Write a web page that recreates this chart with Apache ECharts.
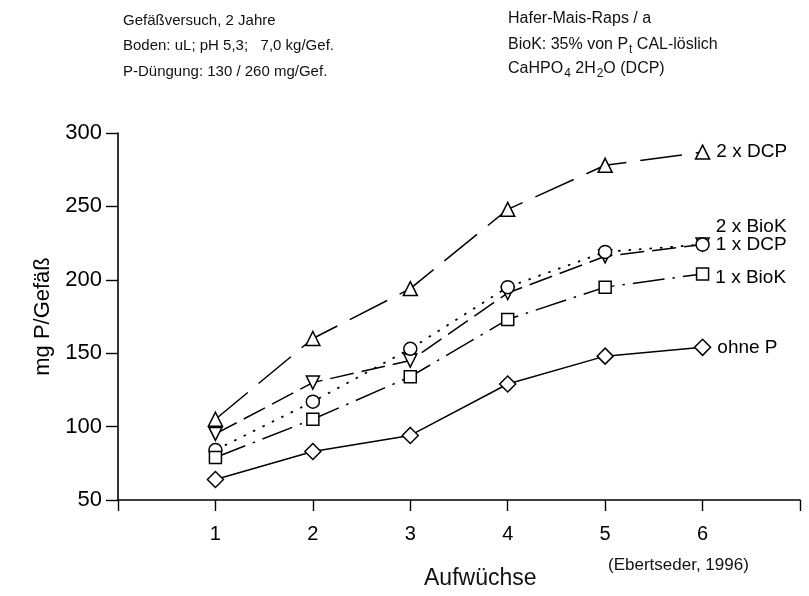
<!DOCTYPE html>
<html>
<head>
<meta charset="utf-8">
<script src="https://cdn.jsdelivr.net/npm/echarts@6/dist/echarts.min.js"></script>
<style>
html,body{margin:0;padding:0;background:#fff;}
#c{width:809px;height:596px;}
</style>
</head>
<body>
<div id="c"></div>
<script>
// Data
var xValues = [1, 2, 3, 4, 5, 6];
var xTickLabels = ['1', '2', '3', '4', '5', '6'];
var yTicks = [50, 100, 150, 200, 250, 300];
var seriesNames = ['2 x DCP', '1 x DCP', '2 x BioK', '1 x BioK', 'ohne P'];
var dcp2 = [105, 160, 194, 248, 278, 287];
var dcp1 = [95, 130, 145, 191, 216, 224];
var biok2 = [84, 117, 153, 195, 219, 224];
var biok1 = [79, 105, 134, 173, 195, 204];
var ohneP = [64, 83, 94, 129, 148, 154];

var FONT = '"Liberation Sans", Arial, Helvetica, sans-serif';
var chart = echarts.init(document.getElementById('c'), null, {renderer: 'canvas'});

function pairs(vals) {
  return vals.map(function (v, i) { return [xValues[i], v]; });
}

function mkSeries(name, vals, symbol, size, rotate, dash, labelOffset, lw) {
  return {
    type: 'line',
    name: name,
    data: pairs(vals),
    symbol: symbol,
    symbolSize: size,
    symbolRotate: rotate,
    showAllSymbol: true,
    lineStyle: {color: '#000', width: lw || 1.5, type: dash},
    itemStyle: {color: '#fff', borderColor: '#000', borderWidth: 1.5},
    label: {
      show: true,
      position: 'right',
      distance: 6,
      offset: labelOffset,
      color: '#000',
      fontFamily: FONT,
      fontSize: 19,
      formatter: function (p) { return p.dataIndex === vals.length - 1 ? name : ''; }
    },
    emphasis: {disabled: true},
    z: 3
  };
}

var topFont = '15px ' + FONT;
var topFontR = '16px ' + FONT;
var subFontR = '12px ' + FONT;

var option = {
  animation: false,
  backgroundColor: '#fff',
  grid: {left: 118, right: 9, top: 133, bottom: 96, containLabel: false},
  xAxis: {
    type: 'value',
    min: 0, max: 7, interval: 1,
    axisLine: {lineStyle: {color: '#000', width: 1.6}},
    axisTick: {show: true, inside: false, length: 11, lineStyle: {color: '#000', width: 1.4}},
    splitLine: {show: false},
    axisLabel: {
      color: '#000', fontFamily: FONT, fontSize: 20, margin: 24,
      formatter: function (v) { var i = xValues.indexOf(v); return i >= 0 ? xTickLabels[i] : ''; }
    }
  },
  yAxis: {
    type: 'value',
    min: yTicks[0], max: yTicks[yTicks.length - 1], interval: 50,
    name: 'mg P/Gefäß',
    nameLocation: 'middle',
    nameGap: 60,
    nameTextStyle: {color: '#000', fontFamily: FONT, fontSize: 22},
    axisLine: {show: true, lineStyle: {color: '#000', width: 1.6}},
    axisTick: {show: true, inside: false, length: 12, lineStyle: {color: '#000', width: 1.4}},
    splitLine: {show: false},
    axisLabel: {color: '#000', fontFamily: FONT, fontSize: 22, margin: 16}
  },
  graphic: [
    {type: 'text', left: 123, top: 13, style: {text: 'Gefäßversuch, 2 Jahre', font: topFont, fill: '#111'}},
    {type: 'text', left: 123, top: 38, style: {text: 'Boden: uL; pH 5,3;   7,0 kg/Gef.', font: topFont, fill: '#111'}},
    {type: 'text', left: 123, top: 64, style: {text: 'P-Düngung: 130 / 260 mg/Gef.', font: topFont, fill: '#111'}},
    {type: 'text', left: 508, top: 11, style: {text: 'Hafer-Mais-Raps / a', font: topFontR, fill: '#111'}},
    {type: 'text', left: 508, top: 37, style: {
      text: '{n|BioK: 35% von P}{s|t}{n| CAL-löslich}',
      rich: {n: {font: topFontR, fill: '#111'}, s: {font: subFontR, fill: '#111', padding: [9, 0, 0, 1]}}
    }},
    {type: 'text', left: 508, top: 61, style: {
      text: '{n|CaHPO}{s|4}{n| 2H}{s|2}{n|O (DCP)}',
      rich: {n: {font: topFontR, fill: '#111'}, s: {font: subFontR, fill: '#111', padding: [9, 0, 0, 1]}}
    }},
    {type: 'text', left: 424, top: 567, style: {text: 'Aufwüchse', font: '23px ' + FONT, fill: '#111'}},
    {type: 'text', left: 608, top: 557, style: {text: '(Ebertseder, 1996)', font: '17px ' + FONT, fill: '#111'}}
  ],
  series: [
    mkSeries(seriesNames[0], dcp2, 'triangle', 14, 0, [42, 14], [0, 0]),
    mkSeries(seriesNames[1], dcp1, 'triangle', 13, 180, [24, 8], [0, 0]),
    mkSeries(seriesNames[2], biok2, 'circle', 13, 0, [2.5, 8], [0, -18], 1.8),
    mkSeries(seriesNames[3], biok1, 'rect', 12, 0, [32, 8, 2.5, 8], [0, 4]),
    mkSeries(seriesNames[4], ohneP, 'diamond', 16, 0, 'solid', [0, 0])
  ]
};
chart.setOption(option);
</script>
</body>
</html>
